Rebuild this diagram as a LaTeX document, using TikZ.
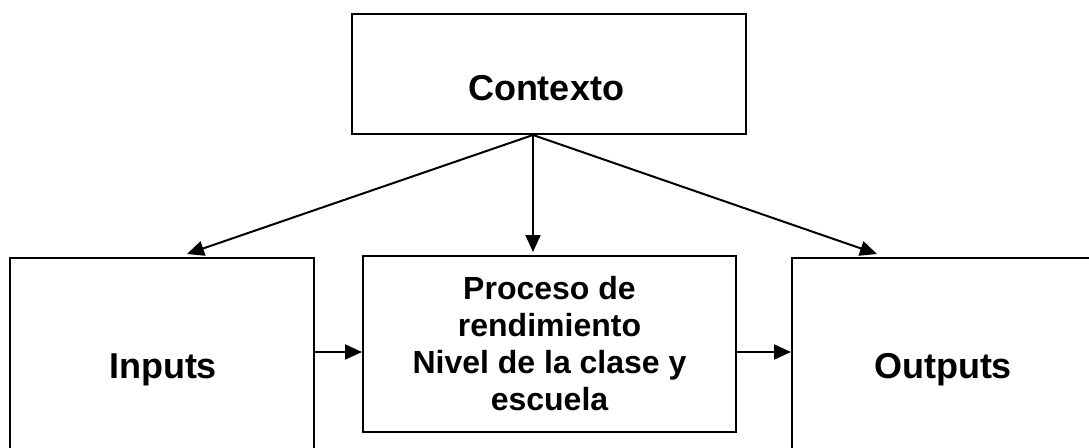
\documentclass[tikz,border=0pt]{standalone}
\usepackage{fontspec}
\setmainfont{Liberation Sans}
\usetikzlibrary{arrows.meta,calc}

\tikzset{
  box/.style={draw,line width=2pt,inner sep=0pt},
  big/.style={font=\bfseries\fontsize{36}{40}\selectfont,anchor=base},
  arr/.style={line width=2pt,-{Triangle[length=17pt,width=15pt]}}
}

\begin{document}
\begin{tikzpicture}[x=1pt,y=-1pt]
\useasboundingbox (0,0) rectangle (1089,447);
\clip (0,0) rectangle (1089,447);
% boxes
\node[box,minimum width=394pt,minimum height=120pt] (ctx) at (549,74) {};
\node[box,minimum width=304pt,minimum height=262pt] (inp) at (162,389) {};
\node[box,minimum width=302pt,minimum height=262pt] (out) at (943,389) {};
\node[box,minimum width=373pt,minimum height=176pt,align=center,
  font=\bfseries\fontsize{32}{37}\selectfont] (proc) at (549.5,344)
  {Proceso de\\rendimiento\\Nivel de la clase y\\escuela};
% labels
\node[big] (ctxtext) at (546,100) {Contexto};
\node[big] (inptext) at (163,378) {Inputs};
\node[big] (outtext) at (943,378) {Outputs};
% arrows from the top
\coordinate (hub) at ([xshift=-16pt]ctx.south);
\draw[arr] (hub) -- ([xshift=25pt,yshift=3pt]inp.north);
\draw[arr] (hub) -- ([yshift=3pt]hub |- proc.north);
\draw[arr] (hub) -- ([xshift=-66pt,yshift=3pt]out.north);
% arrows along the row
\coordinate (a1) at ([yshift=-95pt]inp.north east);
\coordinate (a2) at ([yshift=-95pt]out.north west);
\draw[arr] (a1) -- (a1 -| proc.west);
\draw[arr] (a2 -| proc.east) -- (a2);
\end{tikzpicture}
\end{document}
